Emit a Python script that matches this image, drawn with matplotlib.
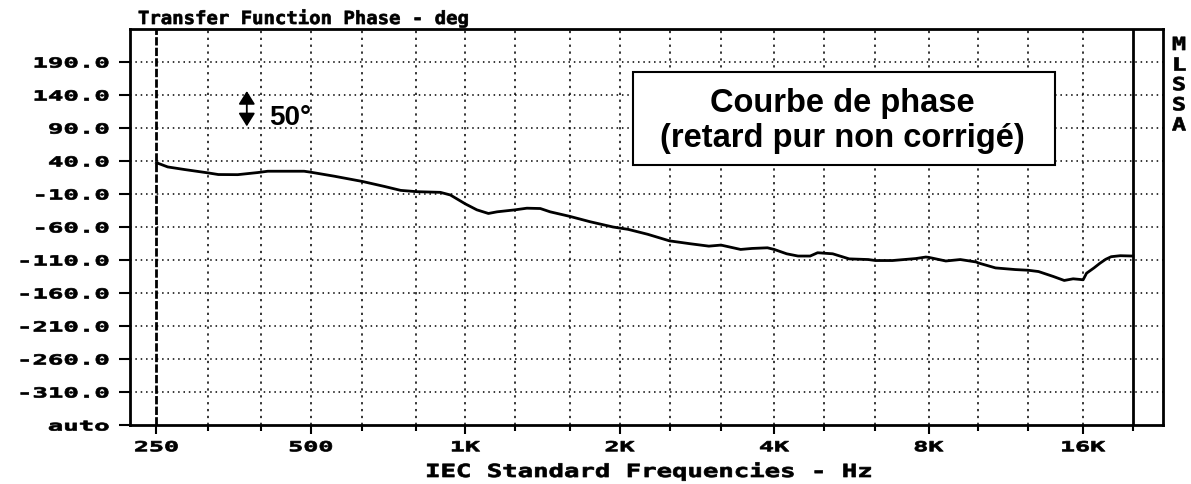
import matplotlib
matplotlib.use('Agg')
import matplotlib.pyplot as plt
from matplotlib.patches import Rectangle
from matplotlib.patheffects import AbstractPathEffect
from matplotlib.ticker import NullFormatter
from matplotlib.transforms import Affine2D

# Phase curve (Hz / degrees)
freqs = [250, 263, 284, 315, 330, 360, 394, 412, 485, 500, 555, 630, 695, 748, 805, 894, 935,
         1000, 1053, 1109, 1153, 1250, 1318, 1400, 1463, 1600, 1750, 1940, 2077, 2266, 2500,
         2745, 2983, 3150, 3440, 3620, 3880, 4000, 4230, 4450, 4700, 4860, 5200, 5600, 6100,
         6300, 6800, 7550, 7900, 8000, 8640, 9220, 9900, 10000, 10800, 11800, 12500, 13100,
         14000, 14700, 15300, 15800, 16000, 16250, 16800, 17250, 17700, 18150, 18900, 20000]
phase = [37.4, 31, 27, 22, 19.5, 19.3, 22.5, 24.5, 24.5, 23, 17, 9, 1.5, -4.5, -6.5, -7.5, -11.5,
         -25, -34, -39.5, -37, -34, -31.5, -32, -37, -44, -52, -60, -63.6, -71, -81,
         -85.4, -89, -87.4, -94, -92.5, -91.5, -94, -100.6, -104, -104, -99, -100.6, -108.3, -109.3,
         -110.8, -110.8, -107.8, -105.5, -106, -111.5, -109.3, -113, -114.5, -122, -124.5, -125.5, -127.5,
         -135, -141, -138.5, -139.5, -140, -130, -122, -115, -109, -105, -103.5, -104]

# IEC third-octave grid and labelled octaves
third_octaves = [250, 315, 400, 500, 630, 800, 1000, 1250, 1600, 2000, 2500, 3150,
                 4000, 5000, 6300, 8000, 10000, 12500, 16000, 20000]
octave_ticks = [250, 500, 1000, 2000, 4000, 8000, 16000]
octave_labels = ['250', '500', '1K', '2K', '4K', '8K', '16K']

y_ticks = [190, 140, 90, 40, -10, -60, -110, -160, -210, -260, -310, -360]
y_labels = ['190.0', '140.0', '90.0', '40.0', '-10.0', '-60.0', '-110.0', '-160.0',
            '-210.0', '-260.0', '-310.0', 'auto']


class Widen(AbstractPathEffect):
    # the MLSSA screen font is much wider than any installed mono font,
    # so stretch the glyphs sideways around the aligned edge
    def __init__(self, sx, anchor='left', stroke=0.5):
        super().__init__()
        self.sx = sx
        self.anchor = anchor
        self.stroke = stroke

    def draw_path(self, renderer, gc, tpath, affine, rgbFace=None):
        ext = tpath.get_extents(affine)
        x0 = {'left': ext.x0, 'center': (ext.x0 + ext.x1) / 2, 'right': ext.x1}[self.anchor]
        stretch = affine + Affine2D().translate(-x0, 0).scale(self.sx, 1).translate(x0, 0)
        gc0 = renderer.new_gc()
        gc0.copy_properties(gc)
        gc0.set_linewidth(self.stroke)
        gc0.set_foreground(rgbFace)
        renderer.draw_path(gc0, tpath, stretch, rgbFace)
        gc0.restore()


plt.rcParams['font.family'] = 'DejaVu Sans Mono'
plt.rcParams['font.weight'] = 'bold'

fig = plt.figure(figsize=(11.91, 4.85), dpi=100)
ax = fig.add_axes([130 / 1191, 1 - 426 / 485, 1033 / 1191, 396 / 485])
ax.set_xscale('log')
ax.set_xlim(222, 22900)
ax.set_ylim(-360, 240)

# dotted grid
for f in third_octaves[1:-1]:
    ax.axvline(f, color='black', lw=1.1, ls=(0, (1.5, 3)), zorder=1)
for v in y_ticks[:-1]:
    ax.axhline(v, color='black', lw=1.1, ls=(0, (1, 2.5)), zorder=1)

# measurement window limits
ax.axvline(250, color='black', lw=2, ls=(0, (3, 0.8)), zorder=2)
ax.axvline(20000, color='black', lw=2, zorder=2)

ax.plot(freqs, phase, color='black', lw=2, zorder=3)

for side in ax.spines.values():
    side.set_linewidth(2)

ax.set_xticks(octave_ticks, labels=octave_labels)
ax.set_xticks([f for f in third_octaves if f not in octave_ticks], minor=True)
ax.xaxis.set_minor_formatter(NullFormatter())
ax.set_yticks(y_ticks, labels=y_labels)
ax.tick_params(axis='x', which='major', direction='out', length=6.5, width=1.5, pad=4.5, labelsize=10)
ax.tick_params(axis='x', which='minor', direction='out', length=4.3, width=1.5)
ax.tick_params(axis='y', direction='out', length=8, width=1.5, pad=7, labelsize=10)
for lbl in ax.get_yticklabels():
    lbl.set_path_effects([Widen(1.85, 'right')])
for lbl in ax.get_xticklabels():
    lbl.set_path_effects([Widen(1.8, 'center')])

# annotation box
ax.add_patch(Rectangle((0.487, 0.6565), 0.4085, 0.235, transform=ax.transAxes,
                       facecolor='white', edgecolor='black', lw=1.5, zorder=5))
ax.text(0.690, 0.770, 'Courbe de phase\n(retard pur non corrigé)', transform=ax.transAxes,
        ha='center', va='center', fontsize=23.5, family='Liberation Sans', weight='bold',
        linespacing=1.17, zorder=6)

# 50 degree scale marker
ax.annotate('', xy=(375, 146), xytext=(375, 92.5),
            arrowprops=dict(arrowstyle='<|-|>,head_length=0.4,head_width=0.25', color='black',
                            lw=1.3, mutation_scale=20, shrinkA=0, shrinkB=0), zorder=6)
ax.text(414, 106, '50°', ha='left', va='center', fontsize=20, family='Liberation Sans',
        weight='bold', zorder=6)

fig.text(138 / 1191, 1 - 25 / 485, 'Transfer Function Phase - deg', ha='left', va='baseline',
         fontsize=13, path_effects=[Widen(1.05, 'left')])
fig.text(649 / 1191, 1 - 478 / 485, 'IEC Standard Frequencies - Hz', ha='center', va='baseline',
         fontsize=13, path_effects=[Widen(1.42, 'center')])
fig.text(1179 / 1191, 1 - 37 / 485, 'M\nL\nS\nS\nA', ha='center', va='top', fontsize=13,
         linespacing=1.15, path_effects=[Widen(1.3, 'center')])

fig.savefig('out.png', dpi=100)
